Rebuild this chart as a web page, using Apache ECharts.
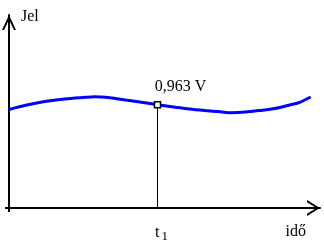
<!DOCTYPE html>
<html>
<head>
<meta charset="utf-8">
<script src="https://cdn.jsdelivr.net/npm/echarts@6/dist/echarts.min.js"></script>
<style>
html,body{margin:0;padding:0;background:#fff;}
#c{width:324px;height:250px;}
</style>
</head>
<body>
<div id="c"></div>
<script>
// ---- data ----
var times  = [0, 0.5, 1.15, 1.8, 2.45, 2.75, 3.25, 3.75, 4.2, 4.775, 5.35, 5.8, 6.3, 6.8, 7.15, 7.6, 8.05, 8.55, 9.05, 9.35, 9.7];
var values = [0.919, 0.956, 0.993, 1.017, 1.032, 1.038, 1.028, 1.007, 0.989, 0.963, 0.940, 0.923, 0.909, 0.897, 0.889, 0.895, 0.909, 0.928, 0.963, 0.986, 1.035];
var t1 = 4.775;
var v1 = 0.963;
var pointLabel = '0,963 V';
var yName = 'Jel';
var xName = 'idő';
var tickLabelMain = 't';
var tickLabelSub = '1';
var xMax = 10;
var yMax = 1.8;

var FONT = 'Liberation Serif';
var stubX = 'path://M0,0L0,0M16,13L16,13M7,2.5L9,2.5L9,7L7,7Z';
var arrowX = 'path://M8,0L16,13L13.8,13L8,3.6L2.2,13L0,13Z';
var stubY = 'path://M0,0L0,0M14,15L14,15M6,3.5L8,3.5L8,8L6,8Z';
var arrowY = 'path://M7,0L14,15L11.9,15L7,4.5L2.1,15L0,15Z';

var chart = echarts.init(document.getElementById('c'), null, {renderer: 'canvas'});
chart.setOption({
  animation: false,
  backgroundColor: '#fff',
  grid: {left: 9, right: 4, top: 15, bottom: 42},
  xAxis: {
    type: 'value', min: 0, max: xMax,
    name: xName,
    nameLocation: 'end',
    nameGap: -14,
    nameTextStyle: {fontFamily: FONT, fontSize: 16, color: '#000', align: 'right', verticalAlign: 'top', padding: [16, 0, 0, 0]},
    axisLine: {show: true, onZero: false, lineStyle: {color: '#000', width: 2},
      symbol: [stubX, arrowX], symbolSize: [16, 13], symbolOffset: [0, -6.5]},
    axisTick: {show: false},
    splitLine: {show: false},
    axisLabel: {
      show: true, customValues: [t1], margin: 17,
      padding: [0, 0, 0, 8],
      formatter: function () { return '{t|' + tickLabelMain + '}{s|' + tickLabelSub + '}'; },
      rich: {
        t: {fontFamily: FONT, fontSize: 16, color: '#000', lineHeight: 16, verticalAlign: 'top'},
        s: {fontFamily: FONT, fontSize: 13, color: '#000', lineHeight: 18, verticalAlign: 'bottom', padding: [0, 0, 0, 2]}
      }
    }
  },
  yAxis: {
    type: 'value', min: 0, max: yMax,
    name: yName,
    nameLocation: 'end',
    nameGap: 6,
    nameTextStyle: {fontFamily: FONT, fontSize: 16, color: '#000', align: 'left', verticalAlign: 'top', padding: [0, 0, 0, 12]},
    axisLine: {show: true, onZero: false, lineStyle: {color: '#000', width: 2},
      symbol: [stubY, arrowY], symbolSize: [14, 15], symbolOffset: [0, -7.5]},
    axisTick: {show: false},
    splitLine: {show: false},
    axisLabel: {show: false}
  },
  series: [
    {
      type: 'line',
      data: times.map(function (t, i) { return [t, values[i]]; }),
      smooth: 0.3,
      showSymbol: false,
      lineStyle: {color: '#0000ff', width: 3},
      z: 2
    },
    {
      type: 'line',
      data: [[t1, 0], [t1, v1]],
      showSymbol: false,
      lineStyle: {color: '#000', width: 1},
      z: 3
    },
    {
      type: 'scatter',
      data: [[t1, v1]],
      symbol: 'rect',
      symbolSize: 6,
      itemStyle: {color: '#fff', borderColor: '#000', borderWidth: 1.5, opacity: 1},
      label: {
        show: true,
        formatter: pointLabel,
        position: [1, -6],
        align: 'left',
        verticalAlign: 'bottom',
        fontFamily: FONT, fontSize: 16, color: '#000'
      },
      z: 4
    }
  ]
});
</script>
</body>
</html>
